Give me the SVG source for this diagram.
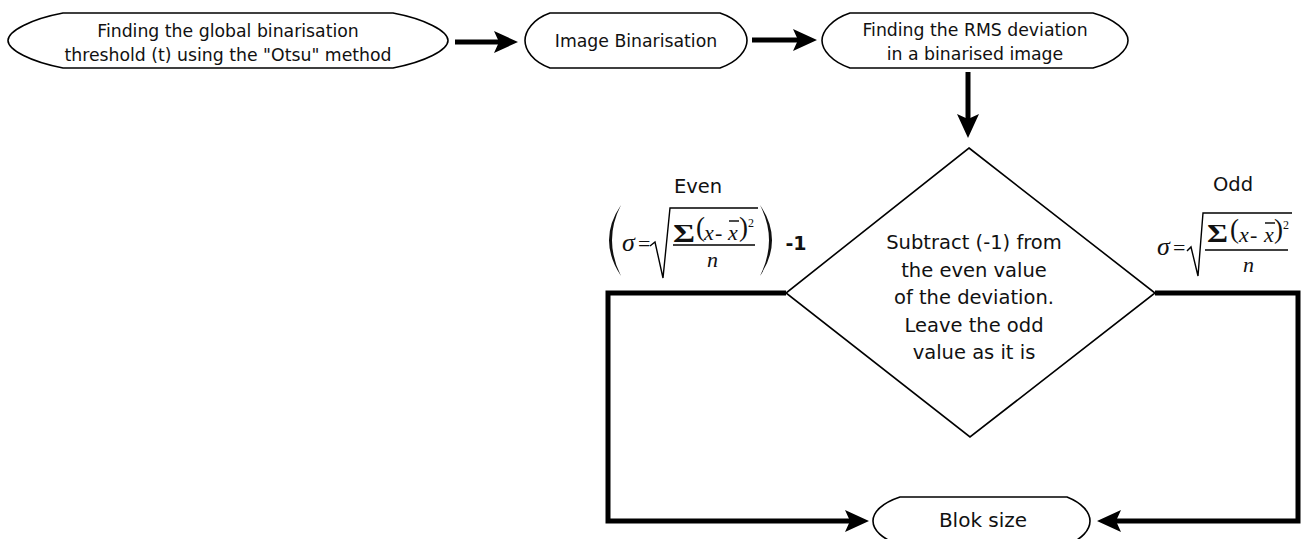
<svg xmlns="http://www.w3.org/2000/svg" width="1306" height="539" viewBox="0 0 1306 539">
<style>
.shape{fill:#fff;stroke:#000;stroke-width:1.6}
.lbl{font-family:"DejaVu Sans",Verdana,sans-serif;font-size:17.3px;fill:#111;text-anchor:middle}
.dlbl{font-family:"DejaVu Sans",Verdana,sans-serif;font-size:19.5px;fill:#111;text-anchor:middle}
.conn{fill:none;stroke:#000;stroke-width:5;stroke-linejoin:miter}
.m{font-family:"Liberation Serif","Times New Roman",serif;fill:#111}
.mi{font-style:italic;font-size:22px}
.sig{font-style:italic;font-size:26px}
.thin{stroke:#000;stroke-width:1.4;fill:none}
</style>
<defs>
<marker id="ah" markerUnits="userSpaceOnUse" markerWidth="24" markerHeight="24" viewBox="0 0 24 24" refX="10" refY="12" orient="auto">
<path d="M0,1 L24,12 L0,23 L5,12 Z" fill="#000"/>
</marker>
</defs>
<rect width="1306" height="539" fill="#fff"/>

<g id="connectors">
<line class="conn" x1="455" y1="42" x2="504" y2="42" marker-end="url(#ah)"/>
<line class="conn" x1="752" y1="40" x2="803" y2="40" marker-end="url(#ah)"/>
<line class="conn" x1="968" y1="72" x2="968" y2="124" marker-end="url(#ah)"/>
<path class="conn" d="M786,293 H608 V521 H855" marker-end="url(#ah)"/>
<path class="conn" d="M1155,293 H1298 V521 H1111" marker-end="url(#ah)"/>
</g>

<g id="node-otsu">
<path class="shape" d="M63,13 H393 C425,19 448,31 448,40.5 C448,50 425,62 393,68 H63 C31,62 8,50 8,40.5 C8,31 31,19 63,13 Z"/>
<text class="lbl" x="228" y="36.5">Finding the global binarisation</text>
<text class="lbl" x="228" y="60.5">threshold (t) using the "Otsu" method</text>
</g>

<g id="node-binarisation">
<path class="shape" d="M550,13 H720 C738,19 747,31 747,40.5 C747,50 738,62 720,68 H550 C533,62 525,50 525,40.5 C525,31 533,19 550,13 Z"/>
<text class="lbl" x="636" y="47">Image Binarisation</text>
</g>

<g id="node-rms">
<path class="shape" d="M850,13 H1093 C1115,19 1128,31 1128,40.5 C1128,50 1115,62 1093,68 H850 C832,62 822,50 822,40.5 C822,31 832,19 850,13 Z"/>
<text class="lbl" x="975" y="36">Finding the RMS deviation</text>
<text class="lbl" x="975" y="60">in a binarised image</text>
</g>

<g id="node-decision">
<path class="shape" d="M969,148 L1155,293 L970,437 L786,293 Z"/>
<text class="dlbl" x="974" y="249">Subtract (-1) from</text>
<text class="dlbl" x="974" y="277">the even value</text>
<text class="dlbl" x="974" y="304">of the deviation.</text>
<text class="dlbl" x="974" y="332">Leave the odd</text>
<text class="dlbl" x="974" y="359">value as it is</text>
</g>

<g id="node-blok">
<path class="shape" d="M900,497 H1067 C1082,503 1090,512 1090,521 C1090,530 1082,539 1067,545 H900 C882,539 873,530 873,521 C873,512 882,503 900,497 Z"/>
<text class="dlbl" x="983" y="527" style="font-size:20px">Blok size</text>
</g>

<g id="label-even">
<text class="dlbl" x="698" y="193">Even</text>
<path d="M621,205 Q597,240 621,276 Q603,240 621,205 Z" fill="#111"/>
<text class="m sig" x="622" y="251">σ</text>
<text class="m" x="638" y="251" font-size="22">=</text>
<path class="thin" d="M650,246 L655,242 L663,278 L670,208 H758"/>
<text class="m" x="673" y="242" font-size="25" font-weight="bold" textLength="22" lengthAdjust="spacingAndGlyphs">Σ</text>
<text class="m" x="696" y="236" font-size="27">(</text>
<text class="m mi" x="704" y="240">x</text>
<text class="m" x="715" y="240" font-size="22">-</text>
<text class="m mi" x="728" y="240">x</text>
<line class="thin" x1="729" y1="221" x2="739" y2="221"/>
<text class="m" x="739" y="236" font-size="27">)</text>
<text class="m" x="748" y="227" font-size="12">2</text>
<line class="thin" x1="673" y1="245" x2="755" y2="245"/>
<text class="m mi" x="707" y="267">n</text>
<path d="M760,205 Q784,240 760,276 Q778,240 760,205 Z" fill="#111"/>
<text class="dlbl" x="796" y="250" font-weight="bold" style="font-size:19px">-1</text>
</g>

<g id="label-odd">
<text class="dlbl" x="1233" y="191">Odd</text>
<text class="m sig" x="1157" y="255">σ</text>
<text class="m" x="1173" y="255" font-size="22">=</text>
<path class="thin" d="M1187,251 L1191,247 L1198,276 L1203,213 H1292"/>
<text class="m" x="1207" y="242" font-size="25" font-weight="bold" textLength="21" lengthAdjust="spacingAndGlyphs">Σ</text>
<text class="m" x="1230" y="238" font-size="27">(</text>
<text class="m mi" x="1239" y="242">x</text>
<text class="m" x="1250" y="242" font-size="22">-</text>
<text class="m mi" x="1264" y="242">x</text>
<line class="thin" x1="1265" y1="223" x2="1275" y2="223"/>
<text class="m" x="1274" y="238" font-size="27">)</text>
<text class="m" x="1283" y="229" font-size="12">2</text>
<line class="thin" x1="1205" y1="250" x2="1288" y2="250"/>
<text class="m mi" x="1243" y="272">n</text>
</g>
</svg>
